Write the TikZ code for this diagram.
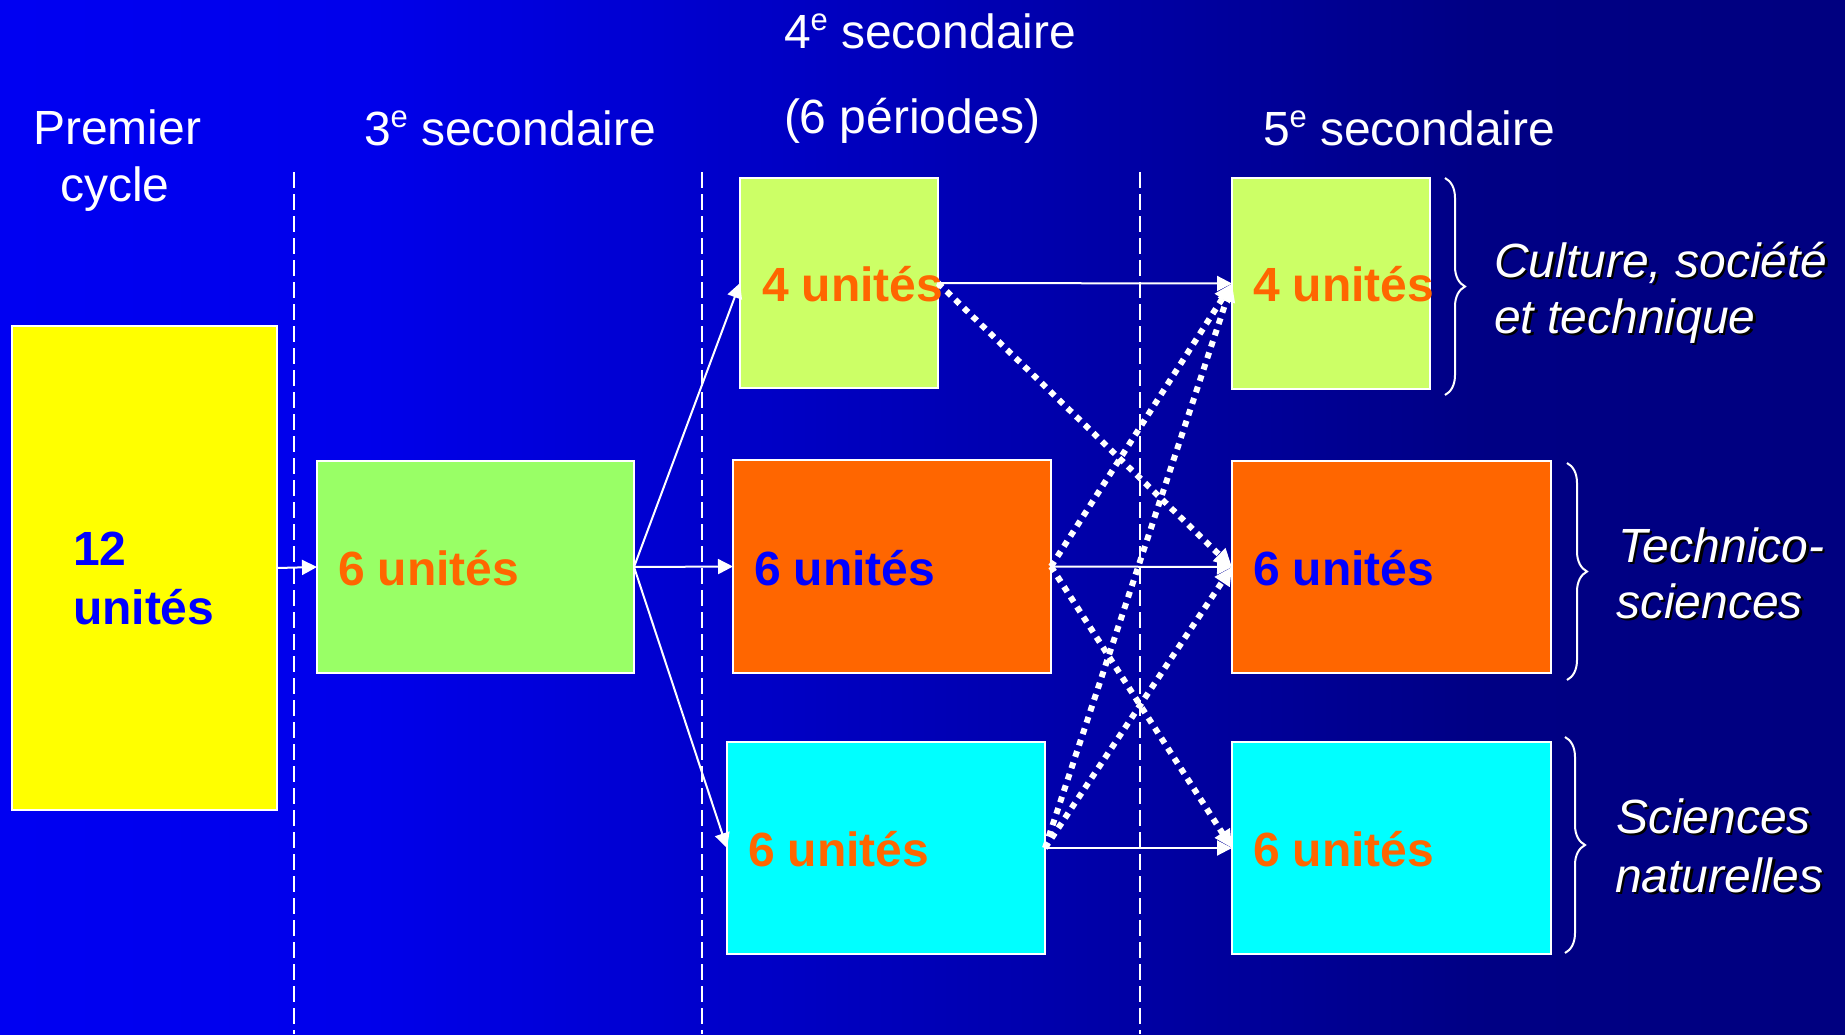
\documentclass[tikz,border=0pt]{standalone}
\usepackage{fontspec}
\setmainfont{Liberation Sans}
\usetikzlibrary{arrows.meta,decorations.pathreplacing}
\definecolor{cYellow}{RGB}{255,255,0}
\definecolor{cGreen}{RGB}{153,255,102}
\definecolor{cLime}{RGB}{204,255,102}
\definecolor{cOrange}{RGB}{255,102,0}
\definecolor{cCyan}{RGB}{0,255,255}
\definecolor{cBlue}{RGB}{0,0,255}
\pgfdeclarehorizontalshading{bgsh}{100bp}{rgb(0bp)=(0,0,0.95); rgb(25bp)=(0,0,0.95); rgb(35bp)=(0,0,0.92); rgb(65bp)=(0,0,0.52); rgb(75bp)=(0,0,0.5); rgb(100bp)=(0,0,0.5)}
\newcommand{\exposant}[1]{\raisebox{0.36em}{\fontsize{31}{31}\selectfont #1}}
\begin{document}
\begin{tikzpicture}[x=1pt,y=-1pt,
  hdr/.style={text=white, font=\fontsize{48}{58}\selectfont, inner sep=0pt, outer sep=0pt},
  unit/.style={font=\bfseries\fontsize{48}{58}\selectfont, inner sep=0pt, outer sep=0pt, anchor=base west},
  lab/.style={font=\itshape\fontsize{48}{58}\selectfont, inner sep=0pt, outer sep=0pt, anchor=base west, text=white},
  box/.style={draw=white, line width=2pt, inner sep=0pt, outer sep=0pt, anchor=north west},
  sepline/.style={white, line width=2pt, dash pattern=on 16pt off 6pt},
  flow/.style={white, line width=2pt, -{Triangle[length=15pt,width=15pt]}},
  alt/.style={white, line width=6pt, dash pattern=on 6pt off 6pt, -{Triangle[length=18pt,width=17pt]}},
  bracestyle/.style={white, line width=2pt, decorate, decoration={brace, amplitude=20pt}}
]
\useasboundingbox (0,0) rectangle (1845,1034);
\shade[shading=bgsh] (0,0) rectangle (1845,1034);

% separators
\draw[sepline] (294,172) -- (294,1034);
\draw[sepline] (702,172) -- (702,1034);
\draw[sepline] (1140,172) -- (1140,1034);

% headers
\node[hdr, anchor=base west] (hPremier) at (33,144) {Premier};
\node[hdr, anchor=base] (hCycle) at (115,201) {cycle};
\node[hdr, anchor=base west] (hTrois) at (364,145) {3\exposant{e} secondaire};
\node[hdr, anchor=base west] (hQuatre) at (784,48) {4\exposant{e} secondaire};
\node[hdr, anchor=base west] (hPeriodes) at (784,133) {(6 périodes)};
\node[hdr, anchor=base west] (hCinq) at (1263,145) {5\exposant{e} secondaire};

% boxes
\node[box, fill=cYellow, minimum width=265pt, minimum height=484pt] (y12) at (12,326) {};
\node[box, fill=cGreen, minimum width=317pt, minimum height=212pt] (g3) at (317,461) {};
\node[box, fill=cLime, minimum width=198pt, minimum height=210pt] (b4a) at (740,178) {};
\node[box, fill=cOrange, minimum width=318pt, minimum height=213pt] (b4b) at (733,460) {};
\node[box, fill=cCyan, minimum width=318pt, minimum height=212pt] (b4c) at (727,742) {};
\node[box, fill=cLime, minimum width=198pt, minimum height=211pt] (b5a) at (1232,178) {};
\node[box, fill=cOrange, minimum width=319pt, minimum height=212pt] (b5b) at (1232,461) {};
\node[box, fill=cCyan, minimum width=319pt, minimum height=212pt] (b5c) at (1232,742) {};

% solid arrows
\draw[flow] (y12.east) -- (g3.west);
\draw[flow] (g3.east) -- (b4a.west);
\draw[flow] (g3.east) -- (b4b.west);
\draw[flow] (g3.east) -- (b4c.west);
\draw[flow] (b4a.east) -- (b5a.west);
\draw[flow] (b4b.east) -- (b5b.west);
\draw[flow] (b4c.east) -- (b5c.west);

% dotted arrows
\draw[alt] (b4a.east) -- (b5b.west);
\draw[alt] (b4b.east) -- (b5a.west);
\draw[alt] (b4b.east) -- (b5c.west);
\draw[alt] (b4c.east) -- (b5a.west);
\draw[alt] (b4c.east) -- (b5b.west);

% box texts
\node[unit, text=cBlue] (t12a) at (73,565) {12};
\node[unit, text=cBlue] (t12b) at (73,624) {unités};
\node[unit, text=cOrange] (tg3) at (338,585) {6 unités};
\node[unit, text=cOrange] (t4a) at (762,301) {4 unités};
\node[unit, text=cBlue] (t4b) at (754,585) {6 unités};
\node[unit, text=cOrange] (t4c) at (748,866) {6 unités};
\node[unit, text=cOrange] (t5a) at (1253,301) {4 unités};
\node[unit, text=cBlue] (t5b) at (1253,585) {6 unités};
\node[unit, text=cOrange] (t5c) at (1253,866) {6 unités};

% braces
\draw[bracestyle] (1445,178) -- (1445,395);
\draw[bracestyle] (1567,463) -- (1567,680);
\draw[bracestyle] (1565,737) -- (1565,953);

% labels with shadow
\node[lab, text=black] (l1as) at (1496.5,279.5) {Culture, société};
\node[lab] (l1a) at (1494,277) {Culture, société};
\node[lab, text=black] (l1bs) at (1496.5,335.5) {et technique};
\node[lab] (l1b) at (1494,333) {et technique};
\node[lab, text=black] (l2as) at (1620.5,564.5) {Technico-};
\node[lab] (l2a) at (1618,562) {Technico-};
\node[lab, text=black] (l2bs) at (1618.5,620.5) {sciences};
\node[lab] (l2b) at (1616,618) {sciences};
\node[lab, text=black] (l3as) at (1618.5,835.5) {Sciences};
\node[lab] (l3a) at (1616,833) {Sciences};
\node[lab, text=black] (l3bs) at (1617.5,894.5) {naturelles};
\node[lab] (l3b) at (1615,892) {naturelles};
\end{tikzpicture}
\end{document}
